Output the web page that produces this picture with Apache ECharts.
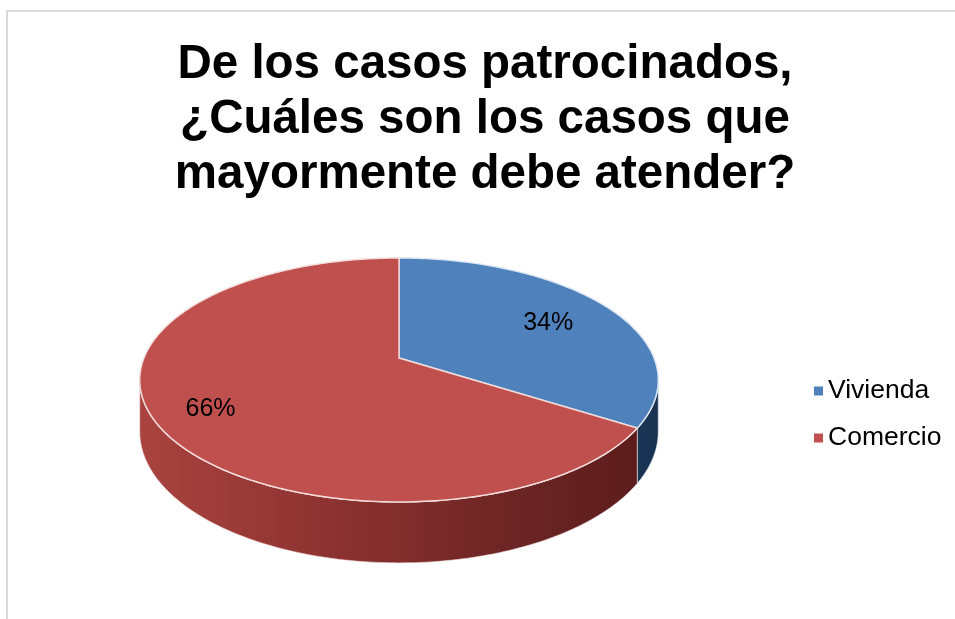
<!DOCTYPE html>
<html>
<head>
<meta charset="utf-8">
<script src="https://cdn.jsdelivr.net/npm/echarts@6/dist/echarts.min.js"></script>
<style>
html,body{margin:0;padding:0;background:#fff;}
#chart{width:955px;height:619px;}
</style>
</head>
<body>
<div id="chart"></div>
<script>
// ---- data ----
const categories = ['Vivienda', 'Comercio'];
const values = [34, 66];
const titleLines = ['De los casos patrocinados,', '¿Cuáles son los casos que', 'mayormente debe atender?'];

// ---- geometry / style ----
const CX = 399, CY = 358;     // apex of the pie on screen
const R = 255;                // horizontal radius
const RS = 118;               // vertical (tilted) radius
const K = 0.18;               // perspective strength
const H = 50;                 // depth of the pie
const topColors = ['#4f81bd', '#c0504d'];
const edgeColors = ['#dce6f2', '#f2dcdb'];
const sideStops = [
  [[0, '#2c5282'], [1, '#1a3353']],
  [[0, '#a8433f'], [0.35, '#8e3331'], [0.75, '#6a2423'], [1, '#5a1c1b']]
];

function proj(theta, depth) {
  const s = Math.sin(theta), c = Math.cos(theta);
  const f = 1 / (1 + K * c);
  return [CX + f * R * s, CY - f * RS * c + f * depth];
}

const total = values.reduce((a, b) => a + b, 0);
function angles(i) {
  let before = 0;
  for (let j = 0; j < i; j++) before += values[j];
  return [before / total * 2 * Math.PI, (before + values[i]) / total * 2 * Math.PI];
}
const VIS1 = Math.acos(-K), VIS2 = 2 * Math.PI - Math.acos(-K);

function arcPts(a0, a1, depth) {
  const pts = [];
  const n = Math.max(2, Math.ceil(Math.abs(a1 - a0) / (Math.PI / 180)));
  for (let k = 0; k <= n; k++) pts.push(proj(a0 + (a1 - a0) * k / n, depth));
  return pts;
}

function makeRender(i) {
  return function (params, api) {
    const [a0, a1] = angles(i);
    const children = [];
    // side (visible near part)
    const s0 = Math.max(a0, VIS1), s1 = Math.min(a1, VIS2);
    if (s1 > s0) {
      const topPts = arcPts(s0, s1, 0);
      const botPts = arcPts(s0, s1, H).reverse();
      children.push({
        type: 'polygon',
        shape: { points: topPts.concat(botPts) },
        style: {
          fill: new echarts.graphic.LinearGradient(CX - R, 0, CX + R, 0,
            sideStops[i].map(s => ({ offset: s[0], color: s[1] })), true),
          stroke: edgeColors[i], lineWidth: 0.6
        }
      });
      children.push({
        type: 'polyline',
        shape: { points: arcPts(s0, s1, 0) },
        style: { stroke: edgeColors[i], lineWidth: 1.6, fill: null }
      });
    }
    // top face
    const top = [[CX, CY]].concat(arcPts(a0, a1, 0));
    children.push({
      type: 'polygon',
      shape: { points: top },
      style: { fill: topColors[i], stroke: edgeColors[i], lineWidth: 1.4 }
    });
    // label
    const mid = (a0 + a1) / 2;
    const s = Math.sin(mid), c = Math.cos(mid), f = 1 / (1 + K * c);
    const lr = 0.75;
    children.push({
      type: 'text',
      style: {
        text: Math.round(values[i] / total * 100) + '%',
        x: CX + f * R * s * lr - 5,
        y: CY - f * RS * c * lr + 4,
        align: 'center', verticalAlign: 'middle',
        font: '25px "Liberation Sans", Arial, sans-serif',
        fill: '#000'
      }
    });
    return { type: 'group', children: children };
  };
}

const chart = echarts.init(document.getElementById('chart'), null, { renderer: 'canvas' });
const series = categories.map((name, i) => ({
  type: 'custom',
  name: name,
  coordinateSystem: 'none',
  data: [values[i]],
  itemStyle: { color: topColors[i] },
  renderItem: makeRender(i),
  silent: true,
  animation: false
}));

chart.setOption({
  backgroundColor: '#fff',
  animation: false,
  title: {
    text: titleLines.join('\n'),
    left: 480,
    top: 32,
    textAlign: 'center',
    textStyle: {
      fontFamily: '"Liberation Sans", Arial, sans-serif',
      fontWeight: 'bold',
      fontSize: 47.5,
      lineHeight: 55,
      color: '#000'
    }
  },
  legend: {
    orient: 'vertical',
    left: 809,
    top: 371,
    icon: 'rect',
    itemWidth: 9,
    itemHeight: 9,
    itemGap: 17,
    data: categories,
    selectedMode: false,
    textStyle: {
      fontFamily: '"Liberation Sans", Arial, sans-serif',
      fontSize: 26.5,
      lineHeight: 30,
      color: '#000'
    }
  },
  graphic: [{
    type: 'rect',
    shape: { x: 7, y: 11, width: 1000, height: 700 },
    style: { fill: null, stroke: '#d9d9d9', lineWidth: 2 },
    silent: true
  }],
  series: series
});
</script>
</body>
</html>
